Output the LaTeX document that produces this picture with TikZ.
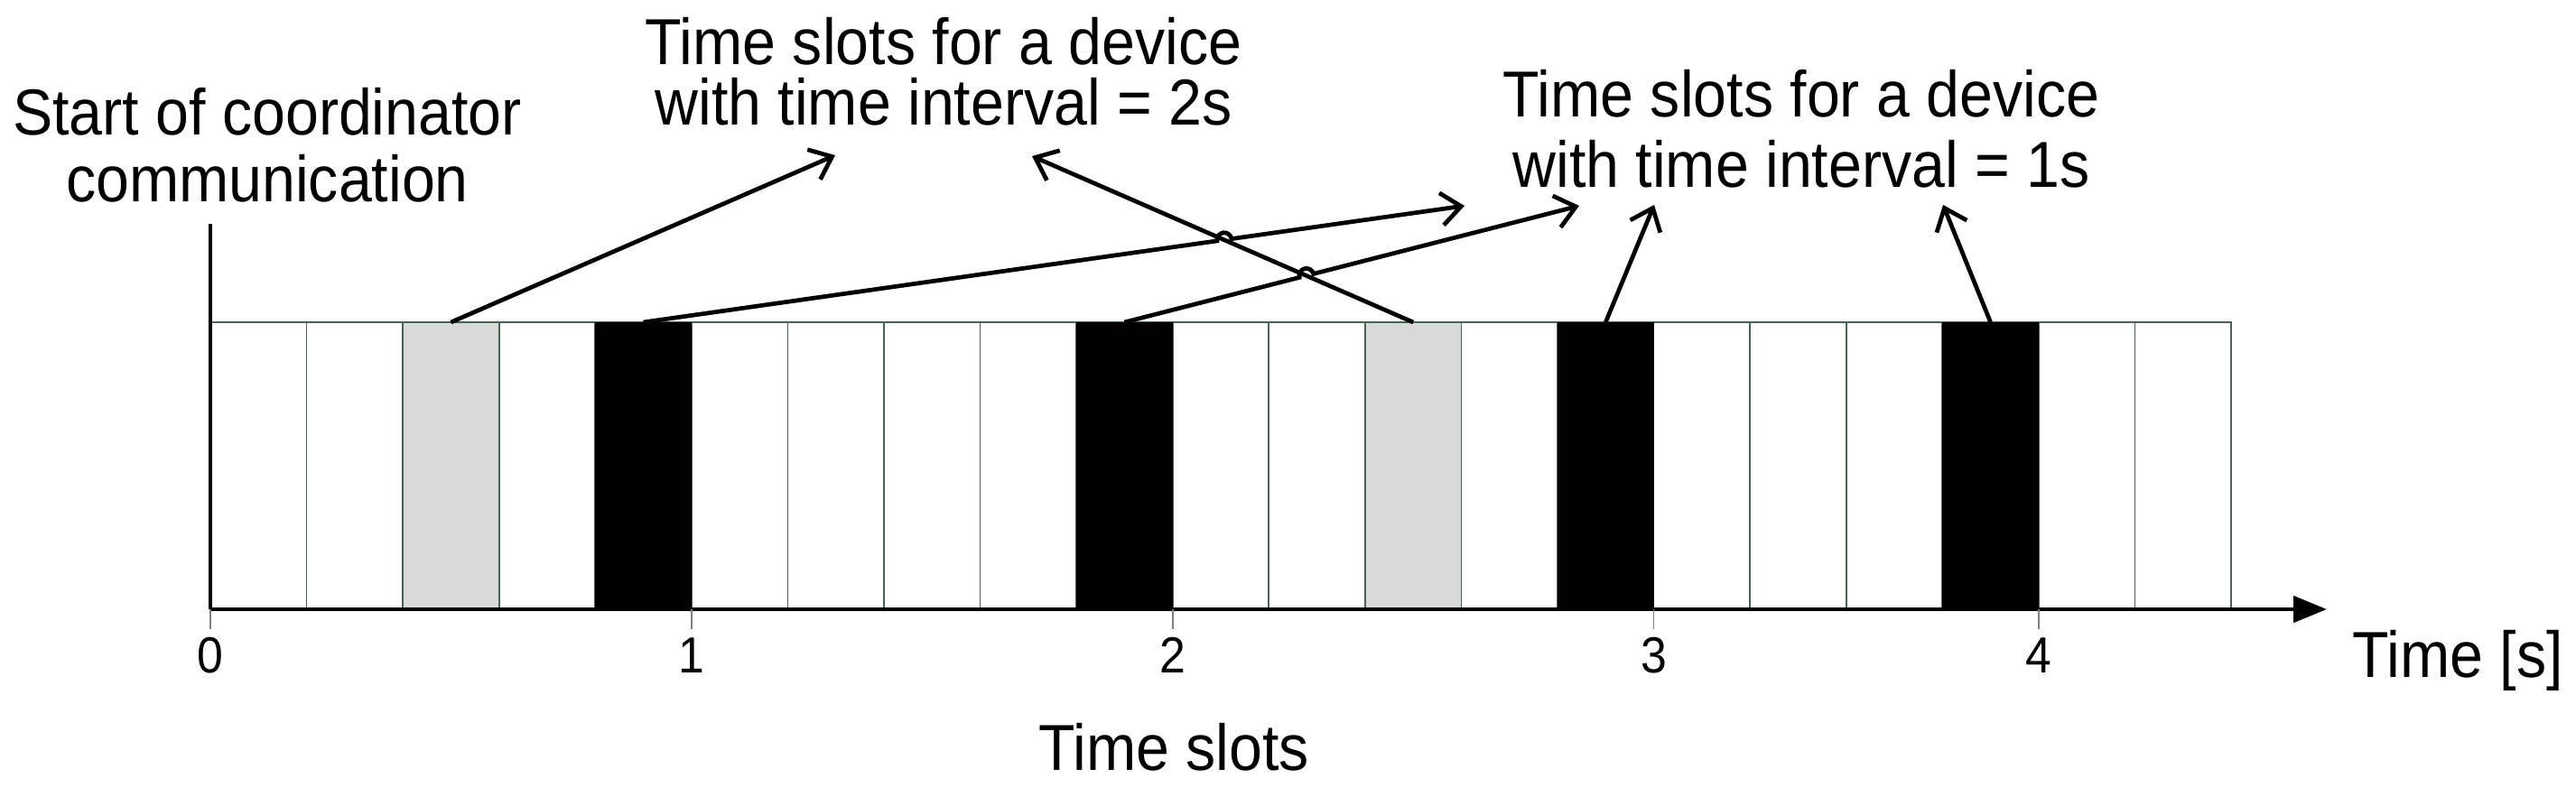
\documentclass[tikz,border=0pt]{standalone}
\usepackage{fontspec}
\setmainfont[FakeStretch=0.92]{Liberation Sans}
\usetikzlibrary{arrows.meta,calc}
\definecolor{slotline}{RGB}{70,100,80}
\definecolor{slotgray}{RGB}{217,217,217}
\tikzset{
    slot/.style={draw=slotline, line width=0.5pt, fill=white, minimum width=1.0657cm, minimum height=3.18cm, inner sep=0pt, outer sep=0pt, anchor=south west},
    caption/.style={font=\fontsize{20.5}{24}\selectfont, anchor=base, inner sep=0pt},
    ticklabel/.style={font=\fontsize{16}{19}\selectfont, anchor=base, inner sep=0pt},
    pointer/.style={line width=1.35pt, -{Straight Barb[length=0.22cm, width=0.36cm]}}
}
\begin{document}
\begin{tikzpicture}
    \useasboundingbox (-2.33,-2.07) rectangle (26.20,6.75);
    \foreach \i in {0,...,20}
        \node[slot] (s\i) at (\i*1.0657,0) {};
    \foreach \i in {2,12}
        \filldraw[fill=slotgray, draw=slotline, line width=0.5pt] (s\i.south west) rectangle (s\i.north east);
    \foreach \i in {4,9,14,18}
        \fill (s\i.south west) rectangle (s\i.north east);

    \coordinate (origin) at (0,0);
    \coordinate (xend) at (23.44,0);
    \coordinate (ytop) at (0,4.27);
    \draw[line width=1.2pt] (origin) -- (ytop);
    \draw[line width=1.3pt, -{Triangle[length=0.37cm, width=0.29cm]}] (origin) -- (xend);
    \foreach \t/\s in {0/0,1/5,2/10,3/15,4/19} {
        \draw[gray, line width=0.5pt] (s\s.south west) -- ++(0,-0.22);
        \node[ticklabel] (t\t) at ($(s\s.south west)+(0,-0.70)$) {\t};
    }
    \node[caption] (axisname) at (24.89,-0.75) {Time [s]};
    \node[caption] (slotsname) at (10.67,-1.78) {Time slots};

    \node[caption] (start1) at (0.63,5.26) {Start of coordinator};
    \node[caption] (start2) at (0.63,4.52) {communication};
    \node[caption] (two1) at (8.12,6.04) {Time slots for a device};
    \node[caption] (two2) at (8.12,5.37) {with time interval = 2s};
    \node[caption] (one1) at (17.62,5.46) {Time slots for a device};
    \node[caption] (one2) at (17.62,4.68) {with time interval = 1s};

    \coordinate (tipA) at (6.92,5.03);
    \coordinate (tipB) at (9.10,5.02);
    \coordinate (tipC) at (13.89,4.47);
    \coordinate (tipD) at (15.16,4.47);
    \coordinate (tipE) at (15.99,4.48);
    \coordinate (tipF) at (19.19,4.48);
    \coordinate (fromB) at (s12.north);
    \coordinate (fromC) at (s4.north);
    \coordinate (fromD) at (s9.north);
    \coordinate (hopC) at (intersection of fromB--tipB and fromC--tipC);
    \coordinate (hopD) at (intersection of fromB--tipB and fromD--tipD);

    \draw[pointer] (s2.north) -- (tipA);
    \draw[pointer] (fromB) -- (tipB);
    \draw[pointer] (fromC) -- ($(hopC)!0.08cm!(fromC)$) arc[start angle=188.07, end angle=8.07, radius=0.08cm] -- (tipC);
    \draw[pointer] (fromD) -- ($(hopD)!0.08cm!(fromD)$) arc[start angle=194.36, end angle=14.36, radius=0.08cm] -- (tipD);
    \draw[pointer] (s14.north) -- (tipE);
    \draw[pointer] (s18.north) -- (tipF);
\end{tikzpicture}
\end{document}
